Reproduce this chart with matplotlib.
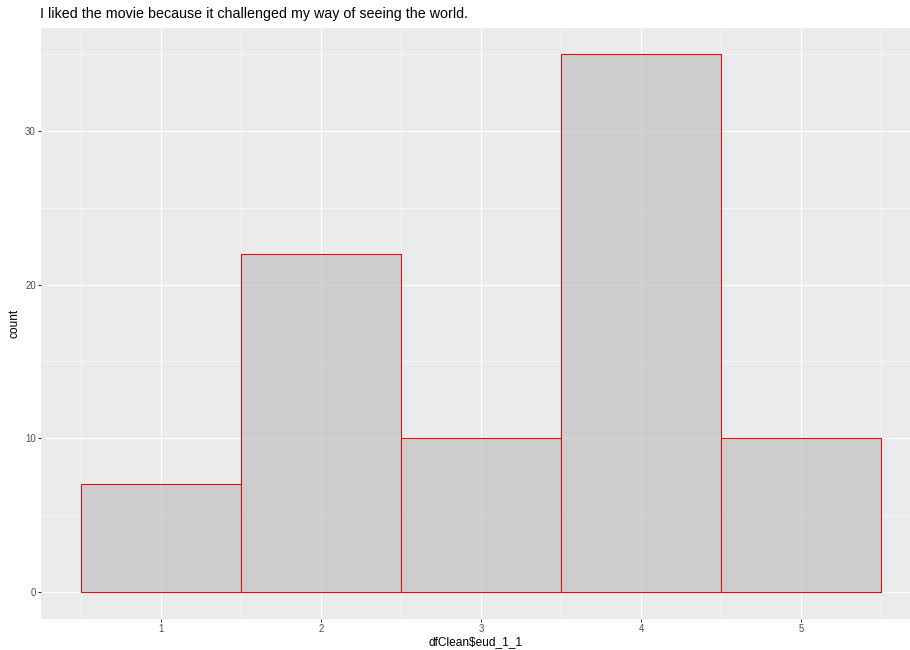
import matplotlib
matplotlib.use("Agg")
import matplotlib.pyplot as plt
import numpy as np

categories = [1, 2, 3, 4, 5]
counts = [7, 22, 10, 35, 10]
title = "I liked the movie because it challenged my way of seeing the world."
xlabel = "dfClean$eud_1_1"
ylabel = "count"

plt.rcParams['font.family'] = ['Liberation Sans', 'DejaVu Sans']

fig = plt.figure(figsize=(9.1, 6.5), dpi=100)
W, H = 910, 650
left, right, top, bottom = 41, 910, 27.5, 618.5
ax = fig.add_axes([left / W, (H - bottom) / H, (right - left) / W, (bottom - top) / H])
ax.set_facecolor("#EBEBEB")
for s in ax.spines.values():
    s.set_visible(False)

ax.bar(categories, counts, width=1.0, color="#BEBEBE", alpha=0.65, edgecolor="none", zorder=3)
ax.bar(categories, counts, width=1.0, facecolor="none", edgecolor="#FF0000", linewidth=0.75, zorder=4)

ax.set_xlim(0.25, 0.25 + (right - left) / 160.0)
ax.set_ylim(-1.75, 36.75)

ax.set_xticks(categories)
ax.set_xticklabels([str(c) for c in categories])
ax.set_xticks([c - 0.5 for c in categories] + [5.5], minor=True)
ax.set_yticks([0, 10, 20, 30])
ax.set_yticks([5, 15, 25, 35], minor=True)

ax.grid(which="major", color="white", linewidth=0.8, zorder=0)
ax.grid(which="minor", color="white", linewidth=0.4, zorder=0)
ax.set_axisbelow(True)

ax.tick_params(which="major", length=2.1, width=0.77, color="#333333",
               labelsize=6.9, labelcolor="#4D4D4D", pad=1.6)
ax.tick_params(which="minor", length=0)

ax.set_xlabel(xlabel, fontsize=8.6, color="black", labelpad=2.0)
ax.set_ylabel(ylabel, fontsize=8.6, color="black", labelpad=3.0)
fig.text(40 / W, 1 - 14 / H, title, fontsize=10.3, ha="left", va="center", color="black")

fig.savefig("out.png", dpi=100, facecolor="white")
